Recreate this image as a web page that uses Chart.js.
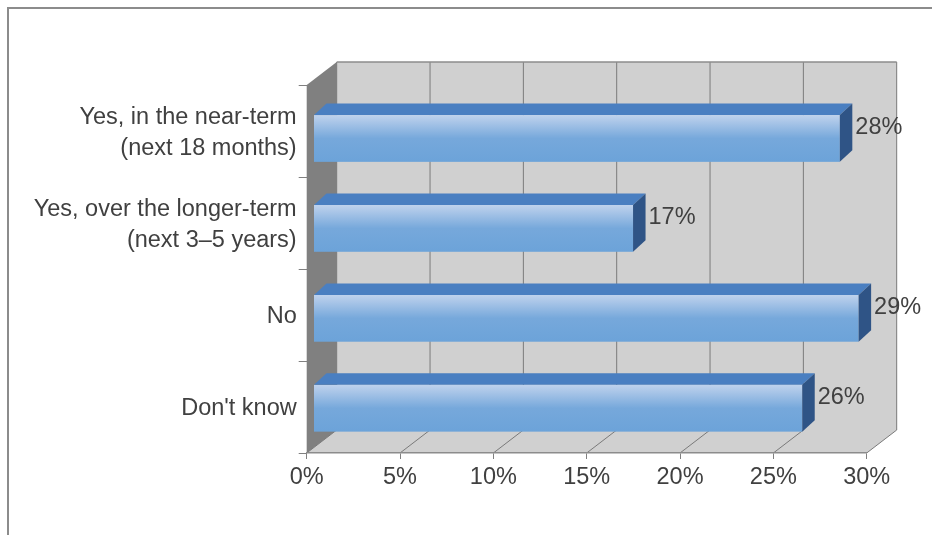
<!DOCTYPE html>
<html>
<head>
<meta charset="utf-8">
<script src="https://cdn.jsdelivr.net/npm/chart.js@4/dist/chart.umd.min.js"></script>
<style>
  html, body { margin: 0; padding: 0; background: #ffffff; }
  #wrap { position: relative; width: 932px; height: 535px; }
</style>
</head>
<body>
<div id="wrap"><canvas id="chart" width="932" height="535"></canvas></div>
<script>
// Survey answers, top to bottom
const categories = [
  ['Yes, in the near-term', '(next 18 months)'],
  ['Yes, over the longer-term', '(next 3\u20135 years)'],
  'No',
  "Don't know"
];
// Share of respondents, in percent
const shares = [28, 17, 29, 26];
// Horizontal axis range and step, in percent
const axisMin = 0;
const axisMax = 30;
const axisStep = 5;

const FONT = '"Liberation Sans", Arial, Helvetica, sans-serif';
const FONT_SIZE = 23.5;
const TEXT = '#404040';

// Oblique depth of the box (walls and floor)
const WALL_DX = 30, WALL_DY = -23;
// Bars sit slightly behind the front plane and have their own depth
const BAR_INSET_X = 6.8, BAR_SCALE_X = 1.007;
const BAR_SCALE_Y = 0.9775, BAR_SHIFT_Y = 8.5;
const BAR_DX = 12.5, BAR_DY = -11.5;

function poly(ctx, pts) {
  ctx.beginPath();
  ctx.moveTo(pts[0][0], pts[0][1]);
  for (let i = 1; i < pts.length; i++) ctx.lineTo(pts[i][0], pts[i][1]);
  ctx.closePath();
}

const box3d = {
  id: 'box3d',
  beforeDraw(chart) {
    const { ctx, chartArea: a, scales: { x } } = chart;
    ctx.save();

    // outer frame
    ctx.strokeStyle = '#8c8c8c';
    ctx.lineWidth = 2;
    ctx.beginPath();
    ctx.moveTo(8, 535); ctx.lineTo(8, 8); ctx.lineTo(932, 8);
    ctx.stroke();

    const dx = WALL_DX, dy = WALL_DY;
    // back wall
    ctx.fillStyle = '#d0d0d0';
    ctx.fillRect(a.left + dx, a.top + dy, a.right - a.left, a.bottom - a.top);
    // floor
    poly(ctx, [[a.left, a.bottom], [a.right, a.bottom], [a.right + dx, a.bottom + dy], [a.left + dx, a.bottom + dy]]);
    ctx.fill();
    // side wall
    ctx.fillStyle = '#808080';
    poly(ctx, [[a.left, a.top], [a.left + dx, a.top + dy], [a.left + dx, a.bottom + dy], [a.left, a.bottom]]);
    ctx.fill();

    // grid lines on the back wall and floor
    ctx.strokeStyle = '#7a7a7a';
    ctx.lineWidth = 1;
    x.ticks.forEach(t => {
      const px = x.getPixelForValue(t.value);
      ctx.beginPath();
      ctx.moveTo(px + dx, a.top + dy);
      ctx.lineTo(px + dx, a.bottom + dy);
      ctx.moveTo(px, a.bottom);
      ctx.lineTo(px + dx, a.bottom + dy);
      ctx.stroke();
    });

    // back wall top edge
    ctx.strokeStyle = '#8c8c8c';
    ctx.lineWidth = 1.5;
    ctx.beginPath();
    ctx.moveTo(a.left + dx, a.top + dy);
    ctx.lineTo(a.right + dx, a.top + dy);
    ctx.stroke();
    ctx.restore();
  },
  afterDatasetsDraw(chart) {
    const { ctx, chartArea: a } = chart;
    const meta = chart.getDatasetMeta(0);
    ctx.save();
    meta.data.forEach((bar, i) => {
      const { x, y, base, height } = bar.getProps(['x', 'y', 'base', 'height'], true);
      const L = base + BAR_INSET_X;
      const R = base + BAR_INSET_X + (x - base) * BAR_SCALE_X;
      const cy = a.top + (y - a.top) * BAR_SCALE_Y + BAR_SHIFT_Y;
      const h = height * BAR_SCALE_Y;
      const T = cy - h / 2, B = cy + h / 2;

      // front face
      const g = ctx.createLinearGradient(0, T, 0, B);
      g.addColorStop(0, '#bfd2ed');
      g.addColorStop(0.5, '#76a8db');
      g.addColorStop(1, '#6ca3d9');
      ctx.fillStyle = g;
      ctx.fillRect(L, T, R - L, B - T);

      // top face
      ctx.fillStyle = '#4a7fc1';
      poly(ctx, [[L, T], [R, T], [R + BAR_DX, T + BAR_DY], [L + BAR_DX, T + BAR_DY]]);
      ctx.fill();

      // end face
      ctx.fillStyle = '#2f5486';
      poly(ctx, [[R, T], [R + BAR_DX, T + BAR_DY], [R + BAR_DX, B + BAR_DY], [R, B]]);
      ctx.fill();

      // value label
      ctx.fillStyle = TEXT;
      ctx.font = FONT_SIZE + 'px ' + FONT;
      ctx.textAlign = 'left';
      ctx.textBaseline = 'middle';
      ctx.fillText(shares[i] + '%', R + BAR_DX + 3, cy + BAR_DY + 1);
    });
    ctx.restore();
  }
};

new Chart(document.getElementById('chart'), {
  type: 'bar',
  data: {
    labels: categories,
    datasets: [{
      data: shares,
      backgroundColor: 'rgba(0,0,0,0)',
      borderWidth: 0,
      categoryPercentage: 1,
      barPercentage: 0.52
    }]
  },
  options: {
    indexAxis: 'y',
    responsive: false,
    animation: false,
    events: [],
    layout: { padding: { left: 0, top: 85, right: 65.3, bottom: 0 } },
    plugins: { legend: { display: false }, tooltip: { enabled: false } },
    scales: {
      x: {
        min: axisMin,
        max: axisMax,
        afterFit(scale) { scale.height = 82; },
        ticks: {
          stepSize: axisStep,
          color: TEXT,
          font: { family: FONT, size: FONT_SIZE },
          padding: 4,
          maxRotation: 0,
          callback: v => v + '%'
        },
        grid: { drawOnChartArea: false, drawTicks: true, tickLength: 6, color: '#808080' },
        border: { display: true, color: '#8c8c8c', width: 1.5 }
      },
      y: {
        afterFit(scale) { scale.width = 306.7; },
        ticks: {
          color: TEXT,
          font: { family: FONT, size: FONT_SIZE, lineHeight: 1.28 },
          padding: 2,
          labelOffset: 2,
          crossAlign: 'near'
        },
        grid: { offset: true, drawOnChartArea: false, drawTicks: true, tickLength: 8, color: '#808080' },
        border: { display: false }
      }
    }
  },
  plugins: [box3d]
});
</script>
</body>
</html>
